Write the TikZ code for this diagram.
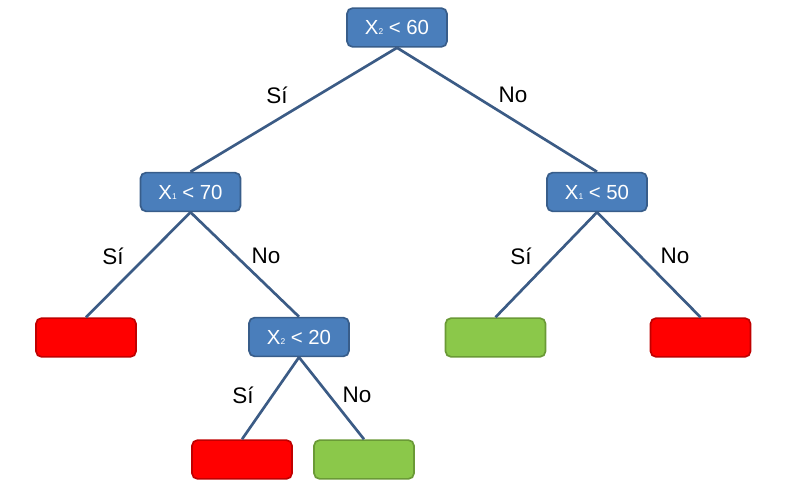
\documentclass[tikz,border=0pt]{standalone}
\usepackage{fontspec}
\setmainfont{Liberation Sans}
\definecolor{boxblue}{HTML}{4A7EBB}
\definecolor{boxblueline}{HTML}{385D8A}
\definecolor{leafred}{HTML}{FF0000}
\definecolor{leafredline}{HTML}{C00000}
\definecolor{leafgreen}{HTML}{8BC84A}
\definecolor{leafgreenline}{HTML}{6A9A36}
\definecolor{edgeblue}{HTML}{3B5B85}
\tikzset{
    split/.style={draw=boxblueline, fill=boxblue, line width=1.2pt, rounded corners=4pt,
        minimum width=2.5cm, minimum height=0.97cm, text=white, font=\fontsize{14.5}{14.5}\selectfont},
    redleaf/.style={draw=leafredline, fill=leafred, line width=1.2pt, rounded corners=4pt,
        minimum width=2.5cm, minimum height=0.97cm},
    greenleaf/.style={draw=leafgreenline, fill=leafgreen, line width=1.2pt, rounded corners=4pt,
        minimum width=2.5cm, minimum height=0.97cm},
    branch/.style={draw=edgeblue, line width=1.9pt},
    answer/.style={font=\fontsize{16}{16}\selectfont},
}
\newcommand{\var}[1]{X{\fontsize{6}{6}\selectfont #1}}

\begin{document}
\begin{tikzpicture}
\useasboundingbox (0,0) rectangle (19.75,12.175);

\node[split] (root) at (9.925,11.4875) {\var{2} < 60};
\node[split] (xa) at (4.7625,7.375) {\var{1} < 70};
\node[split] (xb) at (14.925,7.375) {\var{1} < 50};
\node[redleaf] (r1) at (2.15,3.7375) {};
\node[split] (xc) at (7.475,3.75) {\var{2} < 20};
\node[greenleaf] (g1) at (12.3875,3.7375) {};
\node[redleaf] (r2) at (17.5125,3.7375) {};
\node[redleaf] (r3) at (6.05,0.6875) {};
\node[greenleaf] (g2) at (9.1,0.6875) {};

\draw[branch] (root.south) -- (xa.north);
\draw[branch] (root.south) -- (xb.north);
\draw[branch] (xa.south) -- (r1.north);
\draw[branch] (xa.south) -- (xc.north);
\draw[branch] (xb.south) -- (g1.north);
\draw[branch] (xb.south) -- (r2.north);
\draw[branch] (xc.south) -- (r3.north);
\draw[branch] (xc.south) -- (g2.north);

\node[answer] (s1) at (6.925,9.8) {Sí};
\node[answer] (n1) at (12.825,9.8) {No};
\node[answer] (s2) at (2.825,5.775) {Sí};
\node[answer] (n2) at (6.65,5.775) {No};
\node[answer] (s3) at (13.025,5.775) {Sí};
\node[answer] (n3) at (16.875,5.775) {No};
\node[answer] (s4) at (6.075,2.3) {Sí};
\node[answer] (n4) at (8.925,2.3) {No};
\end{tikzpicture}
\end{document}
